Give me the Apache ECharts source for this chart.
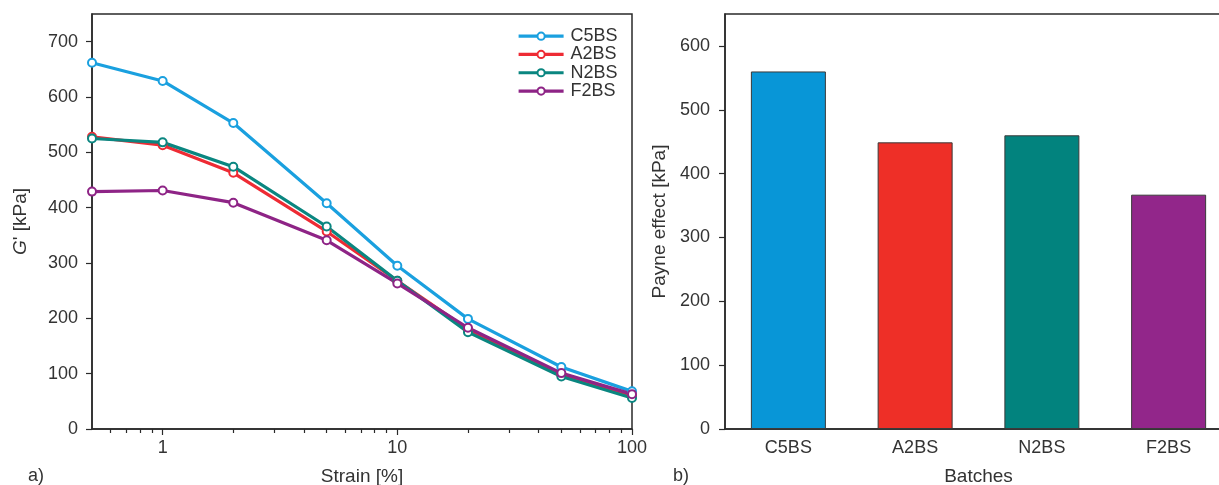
<!DOCTYPE html>
<html>
<head>
<meta charset="utf-8">
<script src="https://cdn.jsdelivr.net/npm/echarts@6/dist/echarts.min.js"></script>
<style>
  html, body { margin: 0; padding: 0; background: #fff; }
  #chart { width: 1219px; height: 485px; }
</style>
</head>
<body>
<div id="chart"></div>
<script>
// Strain sweep: storage modulus G' versus strain amplitude
const strain = [0.5, 1, 2, 5, 10, 20, 50, 100];
const c5bs = [662, 629, 553, 408, 295, 199, 112, 68];
const a2bs = [528, 513, 463, 357, 268, 180, 98, 60];
const n2bs = [525, 518, 474, 366, 268, 175, 95, 56];
const f2bs = [429, 431, 409, 341, 263, 183, 101, 63];

// Payne effect per batch
const batches = ['C5BS', 'A2BS', 'N2BS', 'F2BS'];
const payne = [560, 449, 460, 367];

// Tick labels
const gTicks = [0, 100, 200, 300, 400, 500, 600, 700];
const payneTicks = [0, 100, 200, 300, 400, 500, 600];
const strainMajor = [1, 10, 100];
const strainMinor = [0.6, 0.7, 0.8, 0.9, 2, 3, 4, 5, 6, 7, 8, 9, 20, 30, 40, 50, 60, 70, 80, 90];

const lineColors = ['#1aa0df', '#ee2b34', '#0a8680', '#8e2486'];
const barColors = ['#0896d7', '#ee2f27', '#02837e', '#92268a'];

const FONT = 'Liberation Sans, Arial, Helvetica, sans-serif';
const TXT = '#333';
const AX = '#2a2a2a';
const TICK_FS = 18;
const NAME_FS = 19;

const chart = echarts.init(document.getElementById('chart'), null, { renderer: 'canvas' });

function lineSeries(name, values, color) {
  return {
    name: name,
    type: 'line',
    xAxisIndex: 0,
    yAxisIndex: 0,
    data: strain.map((s, i) => [s, values[i]]),
    symbol: 'emptyCircle',
    symbolSize: 8,
    showAllSymbol: true,
    lineStyle: { color: color, width: 3.2 },
    itemStyle: { color: color, borderColor: color, borderWidth: 2 },
    emphasis: { disabled: true }
  };
}

const tickLabel = { color: TXT, fontSize: TICK_FS, fontFamily: FONT };
const nameText = { color: TXT, fontSize: NAME_FS, fontFamily: FONT };

chart.setOption({
  animation: false,
  textStyle: { fontFamily: FONT },
  grid: [
    { left: 92, top: 14, width: 540, height: 415, show: true, borderColor: AX, borderWidth: 1.5,
      containLabel: false, outerBoundsMode: 'none' },
    { left: 725, top: 14, width: 507, height: 415, show: true, borderColor: AX, borderWidth: 1.5,
      containLabel: false, outerBoundsMode: 'none' }
  ],
  legend: {
    left: 517, top: 27, padding: 0,
    orient: 'vertical',
    itemWidth: 45, itemHeight: 9, itemGap: 0,
    selectedMode: false,
    lineStyle: { width: 3.2 },
    textStyle: { color: TXT, fontSize: TICK_FS, fontFamily: FONT, lineHeight: 18.3, padding: [0, 0, 0, 2] },
    data: ['C5BS', 'A2BS', 'N2BS', 'F2BS']
  },
  xAxis: [
    {
      type: 'log', logBase: 10, gridIndex: 0, min: 0.5, max: 100,
      name: 'Strain [%]', nameLocation: 'middle', nameGap: 38,
      nameTextStyle: nameText,
      axisLine: { lineStyle: { color: AX, width: 1.5 } },
      axisTick: { length: 6, lineStyle: { color: AX, width: 1.2 }, customValues: strainMajor },
      axisLabel: Object.assign({ margin: 10, customValues: strainMajor }, tickLabel),
      splitLine: { show: false }
    },
    {
      type: 'log', logBase: 10, gridIndex: 0, min: 0.5, max: 100, position: 'bottom',
      axisLine: { show: false },
      axisTick: { length: 4, lineStyle: { color: AX, width: 1.2 }, customValues: strainMinor },
      axisLabel: { show: false },
      splitLine: { show: false }
    },
    {
      type: 'category', gridIndex: 1, data: batches,
      name: 'Batches', nameLocation: 'middle', nameGap: 38,
      nameTextStyle: nameText,
      axisLine: { lineStyle: { color: AX, width: 1.5 } },
      axisTick: { alignWithLabel: true, length: 6, lineStyle: { color: AX, width: 1.2 } },
      axisLabel: Object.assign({ margin: 10 }, tickLabel),
      splitLine: { show: false }
    }
  ],
  yAxis: [
    {
      type: 'value', gridIndex: 0, min: 0, max: 750, interval: 100,
      name: "{i|G}' [kPa]", nameLocation: 'middle', nameGap: 62, nameRotate: 90,
      nameTextStyle: Object.assign({
        rich: { i: { fontStyle: 'italic', color: TXT, fontSize: NAME_FS, fontFamily: FONT } }
      }, nameText),
      axisLine: { show: true, lineStyle: { color: AX, width: 1.5 } },
      axisTick: { show: true, length: 6, lineStyle: { color: AX, width: 1.2 }, customValues: gTicks },
      axisLabel: Object.assign({ margin: 14, customValues: gTicks }, tickLabel),
      splitLine: { show: false }
    },
    {
      type: 'value', gridIndex: 1, min: 0, max: 650, interval: 100,
      name: 'Payne effect [kPa]', nameLocation: 'middle', nameGap: 56, nameRotate: 90,
      nameTextStyle: nameText,
      axisLine: { show: true, lineStyle: { color: AX, width: 1.5 } },
      axisTick: { show: true, length: 6, lineStyle: { color: AX, width: 1.2 }, customValues: payneTicks },
      axisLabel: Object.assign({ margin: 15, customValues: payneTicks }, tickLabel),
      splitLine: { show: false }
    }
  ],
  series: [
    lineSeries('C5BS', c5bs, lineColors[0]),
    lineSeries('A2BS', a2bs, lineColors[1]),
    lineSeries('N2BS', n2bs, lineColors[2]),
    lineSeries('F2BS', f2bs, lineColors[3]),
    {
      type: 'bar', xAxisIndex: 2, yAxisIndex: 1, barWidth: 75,
      data: payne.map((v, i) => ({
        value: v,
        itemStyle: { color: barColors[i], borderColor: '#3a3a3a', borderWidth: 1 }
      })),
      emphasis: { disabled: true }
    }
  ],
  graphic: [
    { type: 'text', left: 28, top: 467, style: { text: 'a)', fill: TXT, font: TICK_FS + 'px ' + FONT } },
    { type: 'text', left: 673, top: 467, style: { text: 'b)', fill: TXT, font: TICK_FS + 'px ' + FONT } }
  ]
});
</script>
</body>
</html>
